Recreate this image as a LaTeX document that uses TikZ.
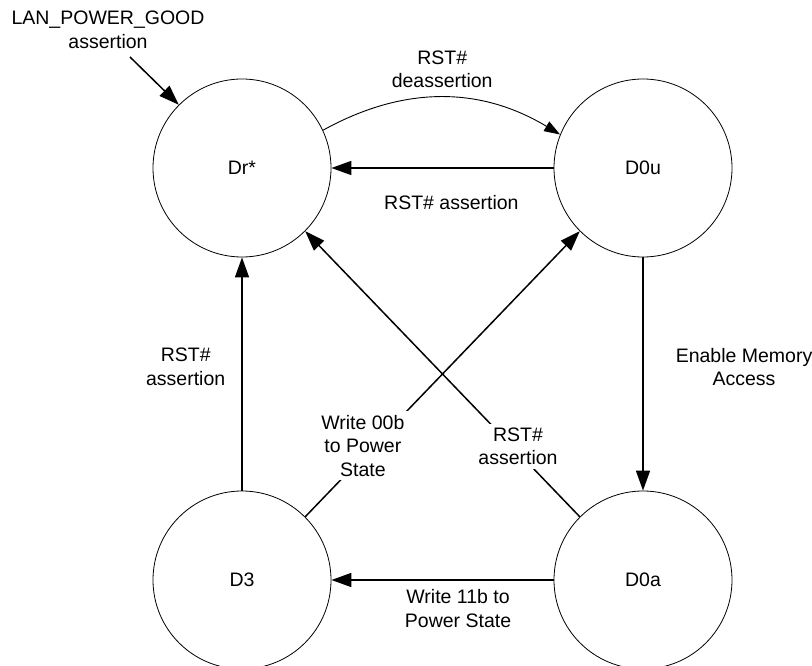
\documentclass[tikz,border=0pt]{standalone}
\usepackage{fontspec}
\setmainfont{Liberation Sans}
\usetikzlibrary{arrows.meta, positioning}

\tikzstyle{trans} = [line width=1.5pt, -{Triangle[length=20pt,width=14pt]}]
\tikzstyle{curvetrans} = [line width=0.9pt, -{Triangle[length=16pt,width=11pt]}]
\tikzset{
  state/.style={circle, draw, line width=0.8pt, minimum size=178pt, inner sep=0pt},
  lbl/.style={align=center, inner sep=1pt},
  gaplbl/.style={align=center, fill=white, inner sep=4pt}
}

\begin{document}
\begin{tikzpicture}[x=1pt, y=1pt, font=\fontsize{19.5}{23.5}\selectfont]
    \clip (0,0) rectangle (812,665);

    % States
    \node[state] (dr) at (242,497) {Dr*};
    \node[state] (d0u) at (643,497) {D0u};
    \node[state] (d3) at (242,85) {D3};
    \node[state] (d0a) at (643,85) {D0a};

    % Power good entry
    \node[lbl] (lan) at (108,635) {LAN\_POWER\_GOOD\\assertion};
    \coordinate (lanstart) at (130,608);
    \draw[trans] (lanstart) -- (dr.135);

    % Top transitions
    \draw[curvetrans] (dr.25) to[bend left=30]
        node[lbl, midway, above=8pt] {RST\#\\deassertion} (d0u.158);
    \draw[trans] (d0u.west) -- node[lbl, pos=0.46, below=26pt] {RST\# assertion} (dr.east);

    % Side transitions
    \draw[trans] (d3.north) -- node[lbl, pos=0.53, left=15pt] {RST\#\\assertion} (dr.south);
    \draw[trans] (d0u.south) -- node[lbl, pos=0.47, right=31pt] {Enable Memory\\Access} (d0a.north);

    % Crossing transitions
    \draw[trans] (d3.45) -- node[gaplbl, pos=0.21, yshift=11pt] {Write 00b\\to Power\\State} (d0u.225);
    \draw[trans] (d0a.135) -- node[gaplbl, pos=0.225, yshift=6pt] {RST\#\\assertion} (dr.-45);

    % Bottom transition
    \draw[trans] (d0a.west) -- node[lbl, pos=0.43, below=8pt] {Write 11b to\\Power State} (d3.east);
\end{tikzpicture}
\end{document}
